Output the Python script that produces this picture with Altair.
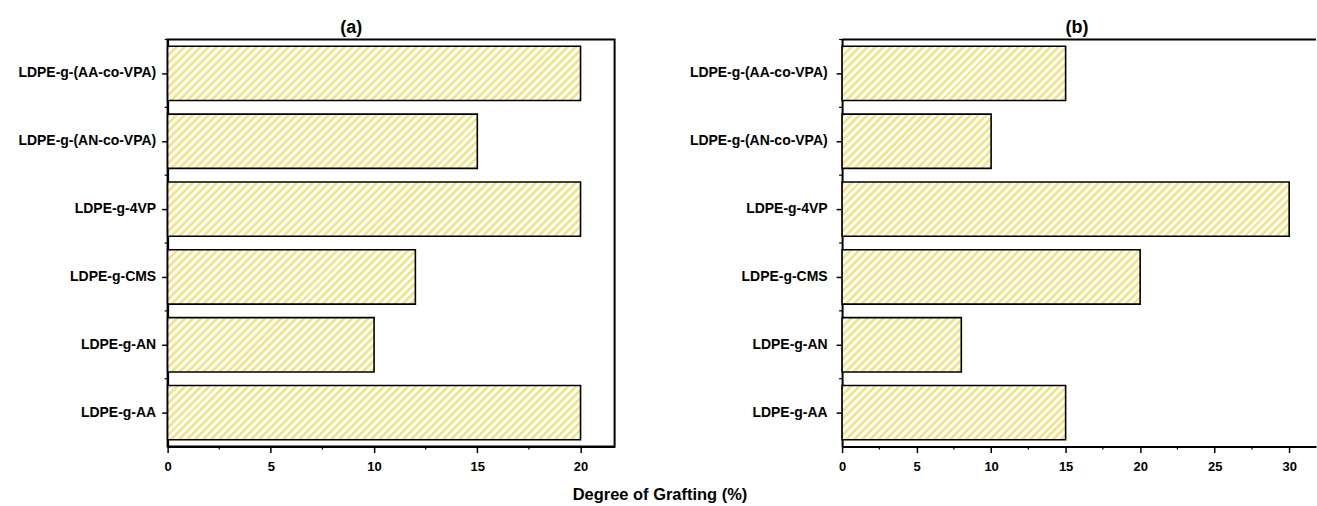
import altair as alt
import pandas as pd

# ---------------- data ----------------
categories = ["LDPE-g-(AA-co-VPA)", "LDPE-g-(AN-co-VPA)", "LDPE-g-4VP",
              "LDPE-g-CMS", "LDPE-g-AN", "LDPE-g-AA"]
values_a = [20, 15, 20, 12, 10, 20]
values_b = [15, 10, 30, 20, 8, 15]
ticks_a = [0, 5, 10, 15, 20]
minor_a = [2.5, 7.5, 12.5, 17.5]
ticks_b = [0, 5, 10, 15, 20, 25, 30]
minor_b = [2.5, 7.5, 12.5, 17.5, 22.5, 27.5]
panel_titles = ["(a)", "(b)"]
x_title = "Degree of Grafting (%)"

# ---------------- style ----------------
FONT = "Liberation Sans"
YELLOW = "#f3e68a"
BAND = 0.8
PERIOD = 8.0
HEIGHT = 408


def stripes(w, h):
    """Diagonal hatch as a linear gradient in bar-bounding-box units."""
    total = w + h
    s = w * total / (w * w + h * h)
    stops = []
    n = int(total // PERIOD) + 1
    for k in range(n):
        a = k * PERIOD / total
        b = (k + 0.5) * PERIOD / total
        c = (k + 1) * PERIOD / total
        for off, col in [(a, YELLOW), (b, YELLOW), (b, "#ffffff"), (c, "#ffffff")]:
            stops.append({"offset": min(off, 1.0), "color": col})
    return {"gradient": "linear", "x1": 0, "y1": 0, "x2": s, "y2": s * h / w,
            "stops": stops}


def panel(title, values, dmax, width, ticks, minor, title_dx, label_pad,
          min_extent, frame):
    df = pd.DataFrame({"cat": categories, "val": values})
    yscale = alt.Scale(domain=categories, paddingInner=0, paddingOuter=0)
    xscale = alt.Scale(domain=[0, dmax], nice=False, zero=True)
    xaxis = alt.Axis(values=ticks, title=None, grid=False, domainColor="black",
                     domainWidth=2, tickColor="black", tickWidth=1.5, tickSize=6,
                     labelFont=FONT, labelFontSize=13, labelFontWeight="bold",
                     labelColor="black", labelPadding=8, labelFlush=False)
    yaxis = alt.Axis(title=None, grid=False, domainColor="black", domainWidth=2,
                     tickColor="black", tickWidth=1.5, tickSize=6,
                     labelFont=FONT, labelFontSize=14, labelFontWeight="bold",
                     labelColor="black", labelPadding=label_pad,
                     minExtent=min_extent)
    bh = BAND * HEIGHT / len(categories)
    layers = []
    for c, v in zip(categories, values):
        w = v * width / dmax
        layers.append(
            alt.Chart(df).transform_filter(alt.datum.cat == c)
            .mark_bar(height={"band": BAND}, fill=stripes(w, bh), stroke="black",
                      strokeWidth=1.6)
            .encode(x=alt.X("val:Q", scale=xscale, axis=xaxis),
                    y=alt.Y("cat:N", scale=yscale, sort=categories, axis=yaxis))
        )
    # minor ticks on x
    mdf = pd.DataFrame({"val": minor})
    layers.append(
        alt.Chart(mdf).mark_rule(color="black", strokeWidth=1.2)
        .encode(x=alt.X("val:Q", scale=xscale, axis=xaxis),
                y=alt.value(HEIGHT), y2=alt.value(HEIGHT + 3))
    )
    # minor ticks on y (band boundaries)
    layers.append(
        alt.Chart(pd.DataFrame({"cat": categories})).mark_rule(color="black", strokeWidth=1.2)
        .encode(y=alt.Y("cat:N", scale=yscale, sort=categories, bandPosition=0, axis=yaxis),
                x=alt.value(0), x2=alt.value(-3))
    )
    if not frame:
        layers.append(
            alt.Chart(pd.DataFrame({"cat": categories[:1]})).mark_rule(color="black", strokeWidth=2)
            .encode(x=alt.value(0), x2=alt.value(width), y=alt.value(0))
        )
    view = alt.ViewBackground(stroke="black", strokeWidth=2) if frame else alt.ViewBackground(stroke=None)
    return alt.layer(*layers).properties(
        width=width, height=HEIGHT, view=view,
        title=alt.TitleParams(text=title, font=FONT, fontSize=18, fontWeight="bold",
                              color="black", anchor="middle", frame="group",
                              dx=title_dx, offset=2),
    )


pa = panel(panel_titles[0], values_a, 21.65, 448, ticks_a, minor_a, -40, 6, 154, True)
pb = panel(panel_titles[1], values_b, 31.8, 475, ticks_b, minor_b, -2, 9, 161, False)

chart = alt.hconcat(pa, pb, spacing=66).properties(
    padding={"left": 13, "right": 0, "top": 17, "bottom": 0},
    title=alt.TitleParams(text=x_title, orient="bottom", anchor="middle", font=FONT,
                          fontSize=16.5, fontWeight="bold", color="black", offset=13, dx=-5),
    background="white",
).configure_view(strokeWidth=0)

chart.save("out.html", embed_options={"renderer": "svg", "actions": False})
